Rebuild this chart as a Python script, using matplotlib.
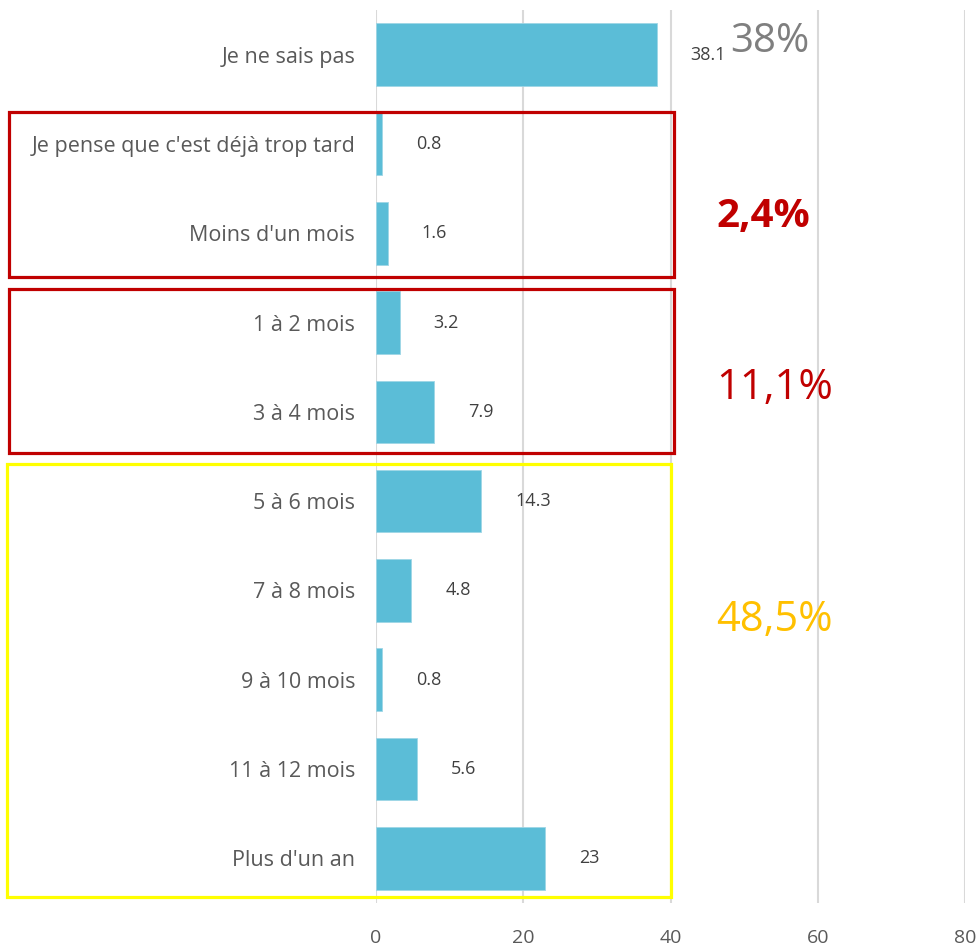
import matplotlib
matplotlib.use("Agg")
import matplotlib.pyplot as plt
from matplotlib.patches import Rectangle

categories = ["Je ne sais pas", "Je pense que c'est déjà trop tard", "Moins d'un mois",
              "1 à 2 mois", "3 à 4 mois", "5 à 6 mois", "7 à 8 mois",
              "9 à 10 mois", "11 à 12 mois", "Plus d'un an"]
values = [38.1, 0.8, 1.6, 3.2, 7.9, 14.3, 4.8, 0.8, 5.6, 23]
value_labels = ["38.1", "0.8", "1.6", "3.2", "7.9", "14.3", "4.8", "0.8", "5.6", "23"]
xticks = [0, 20, 40, 60, 80]
group_texts = ["38%", "2,4%", "11,1%", "48,5%"]

plt.rcParams['font.family'] = ['Open Sans', 'DejaVu Sans']

W, H = 977, 952
fig = plt.figure(figsize=(W/100, H/100), dpi=100)
ax = fig.add_axes([376/W, 1-903/H, (965-376)/W, (903-10)/H])

n = len(categories)
ypos = list(range(n))
ax.barh(ypos, values, height=0.7, color="#5BBDD7", edgecolor="#9ED6E6", linewidth=0.6, zorder=3)
ax.set_ylim(n-0.5, -0.5)
ax.set_xlim(0, 80)
ax.set_xticks(xticks)
ax.set_xticklabels([str(t) for t in xticks], color="#595959", fontsize=14)
ax.set_yticks(ypos)
ax.set_yticklabels(categories, color="#595959", fontsize=15.5)
ax.tick_params(axis='both', length=0)
ax.tick_params(axis='x', pad=19)
ax.tick_params(axis='y', pad=15)
for s in ax.spines.values():
    s.set_visible(False)
ax.grid(axis='x', color="#D9D9D9", linewidth=1.5, zorder=0)
ax.set_axisbelow(True)

for y, v, lab in zip(ypos, values, value_labels):
    ax.annotate(lab, (v, y), xytext=(34, 0), textcoords='offset pixels',
                va='center', ha='left', fontsize=13, color="#404040", zorder=4)

# group rectangles in figure pixel coords
def box(x0, y0, x1, y1, color):
    fig.add_artist(Rectangle((x0/W, 1-y1/H), (x1-x0)/W, (y1-y0)/H, transform=fig.transFigure,
                             fill=False, edgecolor=color, linewidth=2.3, zorder=10))

box(9, 112, 674, 277, "#C00000")
box(9, 289, 674, 453, "#C00000")
box(7, 464, 671, 897, "#FFFF00")

fig.text(730/W, 1-42/H, group_texts[0], color="#7F7F7F", fontsize=29, va='center', ha='left')
fig.text(716/W, 1-217/H, group_texts[1], color="#C00000", fontsize=29, fontweight='bold', va='center', ha='left')
fig.text(716/W, 1-388/H, group_texts[2], color="#C00000", fontsize=30, va='center', ha='left')
fig.text(716/W, 1-620/H, group_texts[3], color="#FFC000", fontsize=30, va='center', ha='left')

fig.savefig("out.png", dpi=100)
